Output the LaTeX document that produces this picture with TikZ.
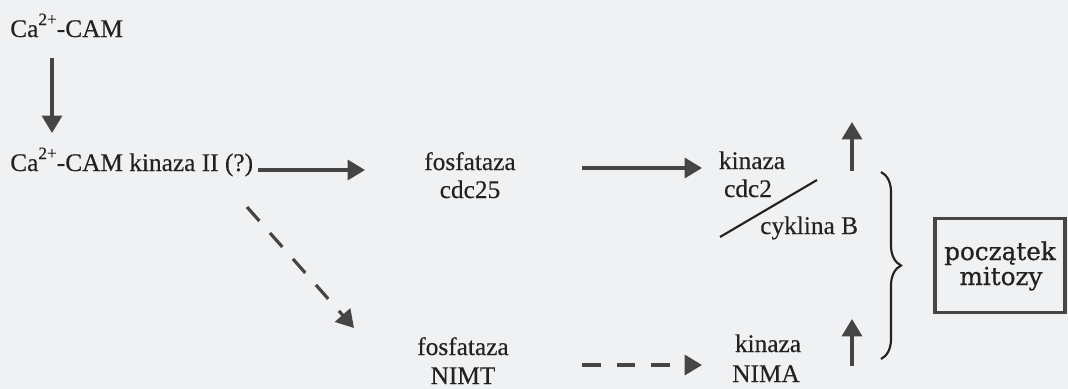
\documentclass[tikz,border=0pt]{standalone}
\usepackage{fontspec}
\setmainfont[FakeBold=0.3]{Liberation Serif}
\newfontfamily\boxfont[FakeBold=0.7]{DejaVu Serif}
\usetikzlibrary{arrows.meta,decorations.pathreplacing}
\definecolor{paper}{HTML}{EFF1F3}
\definecolor{ink}{HTML}{222222}
\definecolor{arrowink}{HTML}{454545}
\newcommand{\ionsup}[1]{\raisebox{9pt}{\fontsize{13}{13}\selectfont #1}}
\tikzset{
  lbl/.style={inner sep=0pt, text=ink, font=\fontsize{19}{21}\selectfont},
  boxlbl/.style={inner sep=0pt, text=ink, anchor=base, font=\boxfont\fontsize{18.5}{18.5}\selectfont},
  arr/.style={draw=arrowink, line width=2.4pt, -{Triangle[length=13pt,width=15pt]}},
  darr/.style={arr, dash pattern=on 14pt off 12pt},
  resultbox/.style={draw=arrowink, line width=2.8pt, minimum width=97pt, minimum height=70.5pt, inner sep=0pt},
}
\begin{document}
\begin{tikzpicture}[x=0.75pt,y=-0.75pt]
\fill[paper] (0,0) rectangle (1068,389);
\useasboundingbox (0,0) rectangle (1068,389);

% calcium / calmodulin cascade
\node[lbl,anchor=base west] (cam) at (10,37) {Ca\ionsup{2+}-CAM};
\node[lbl,anchor=base west] (camk) at (10,171) {Ca\ionsup{2+}-CAM kinaza II (?)};

% phosphatases
\node[lbl,anchor=base] (cdc25a) at (470,170) {fosfataza};
\node[lbl,anchor=base] (cdc25b) at (470,198) {cdc25};
\node[lbl,anchor=base] (nimta) at (463,355) {fosfataza};
\node[lbl,anchor=base] (nimtb) at (463,384) {NIMT};

% kinases
\node[lbl,anchor=base] (cdc2a) at (752,169) {kinaza};
\node[lbl,anchor=base] (cdc2b) at (748,197) {cdc2};
\node[lbl,anchor=base west] (cyc) at (760,234) {cyklina B};
\node[lbl,anchor=base] (nimaa) at (768,352) {kinaza};
\node[lbl,anchor=base] (nimab) at (766,382) {NIMA};

% outcome
\node[resultbox] (mit) at (1000,265.5) {};
\node[boxlbl] (mita) at (1000,260) {początek};
\node[boxlbl] (mitb) at (1001,285) {mitozy};

% connector end points
\coordinate (a1) at (52,58);
\coordinate (a2) at (52,133);
\coordinate (b1) at (258,170);
\coordinate (b2) at (365,170);
\coordinate (c1) at (582,168);
\coordinate (c2) at (702,168);
\coordinate (d1) at (247,207);
\coordinate (d2) at (354,328);
\coordinate (e1) at (582,365);
\coordinate (e2) at (702,365);
\coordinate (u1) at (852,171);
\coordinate (u2) at (852,122);
\coordinate (v1) at (852,366);
\coordinate (v2) at (852,319);
\coordinate (s1) at (720,237);
\coordinate (s2) at (817,180);
\coordinate (br1) at (881,172);
\coordinate (br2) at (881,359);

\draw[arr] (a1) -- (a2);
\draw[arr] (b1) -- (b2);
\draw[arr] (c1) -- (c2);
\draw[darr] (d1) -- (d2);
\draw[darr] (e1) -- (e2);
\draw[arr] (u1) -- (u2);
\draw[arr] (v1) -- (v2);

% complex separator
\draw[draw=ink, line width=1.6pt] (s1) -- (s2);

% brace grouping both kinases
\draw[draw=ink, line width=1.6pt, decorate, decoration={brace, amplitude=15pt}] (br1) -- (br2);
\end{tikzpicture}
\end{document}
